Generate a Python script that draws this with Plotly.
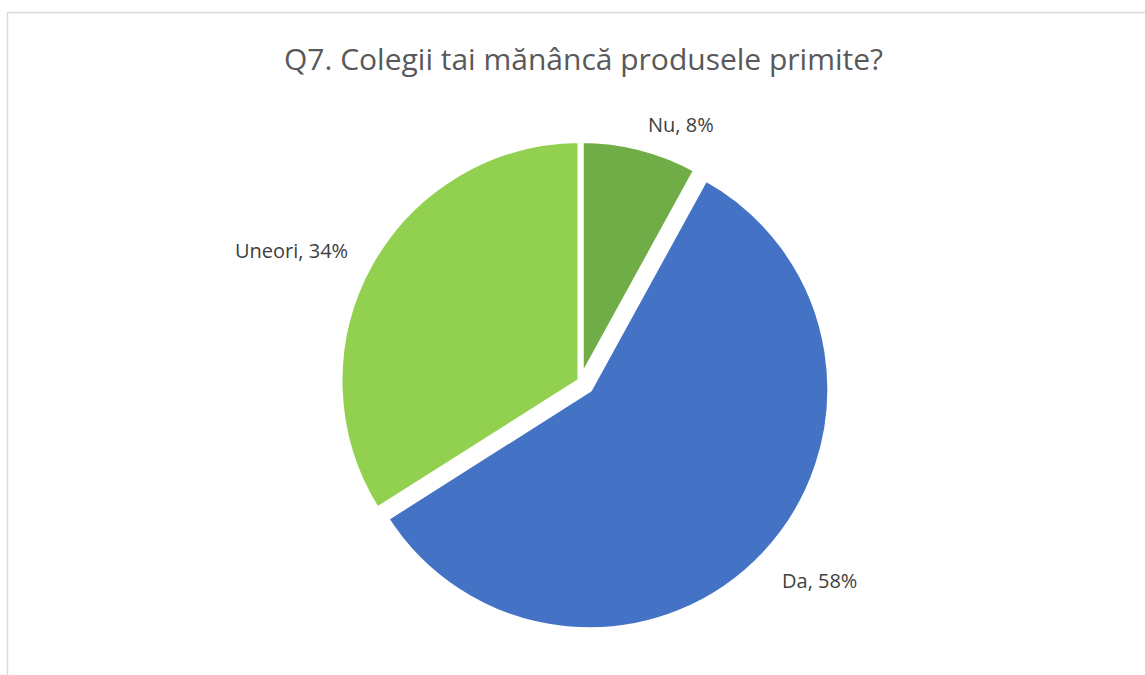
import plotly.graph_objects as go

# Survey answers for Q7
categories = ["Nu", "Da", "Uneori"]
shares = [8, 58, 34]
colors = ["#70AD47", "#4472C4", "#92D050"]
pulls = [0, 0.05, 0]

W, H = 1145, 675

# Pie geometry (pixels, measured from top-left)
cx, cy = 580.5, 381
radius = 241
box = 2 * radius * (1 + max(pulls))

fig = go.Figure(
    go.Pie(
        labels=categories,
        values=shares,
        sort=False,
        direction="clockwise",
        rotation=0,
        pull=pulls,
        marker=dict(colors=colors, line=dict(color="white", width=6)),
        textinfo="none",
        hoverinfo="label+percent",
        showlegend=False,
        domain=dict(
            x=[(cx - box / 2) / W, (cx + box / 2) / W],
            y=[(H - cy - box / 2) / H, (H - cy + box / 2) / H],
        ),
    )
)

# Data label placement (pixel centres) for each slice
label_pos = {"Nu": (681, 125), "Da": (819, 580), "Uneori": (291, 250)}
for name, val in zip(categories, shares):
    px, py = label_pos[name]
    fig.add_annotation(
        x=px / W, y=1 - py / H, xref="paper", yref="paper",
        text=f"{name}, {val}%", showarrow=False,
        font=dict(family="Open Sans", size=20, color="#404040"),
        xanchor="center", yanchor="middle",
    )

# Chart title
fig.add_annotation(
    x=583 / W, y=1 - 59 / H, xref="paper", yref="paper",
    text="Q7. Colegii tai mănâncă produsele primite?", showarrow=False,
    font=dict(family="Open Sans", size=30, color="#595959"),
    xanchor="center", yanchor="middle",
)

# Chart-area frame (runs off the right and bottom edges)
fig.add_shape(
    type="rect", xref="paper", yref="paper",
    x0=7.5 / W, x1=1.05, y0=-0.05, y1=1 - 12.5 / H,
    line=dict(color="#D9D9D9", width=1.5), fillcolor="rgba(0,0,0,0)",
)

fig.update_layout(
    width=W, height=H,
    margin=dict(l=0, r=0, t=0, b=0),
    paper_bgcolor="white", plot_bgcolor="white",
)

fig.write_html("out.html")
